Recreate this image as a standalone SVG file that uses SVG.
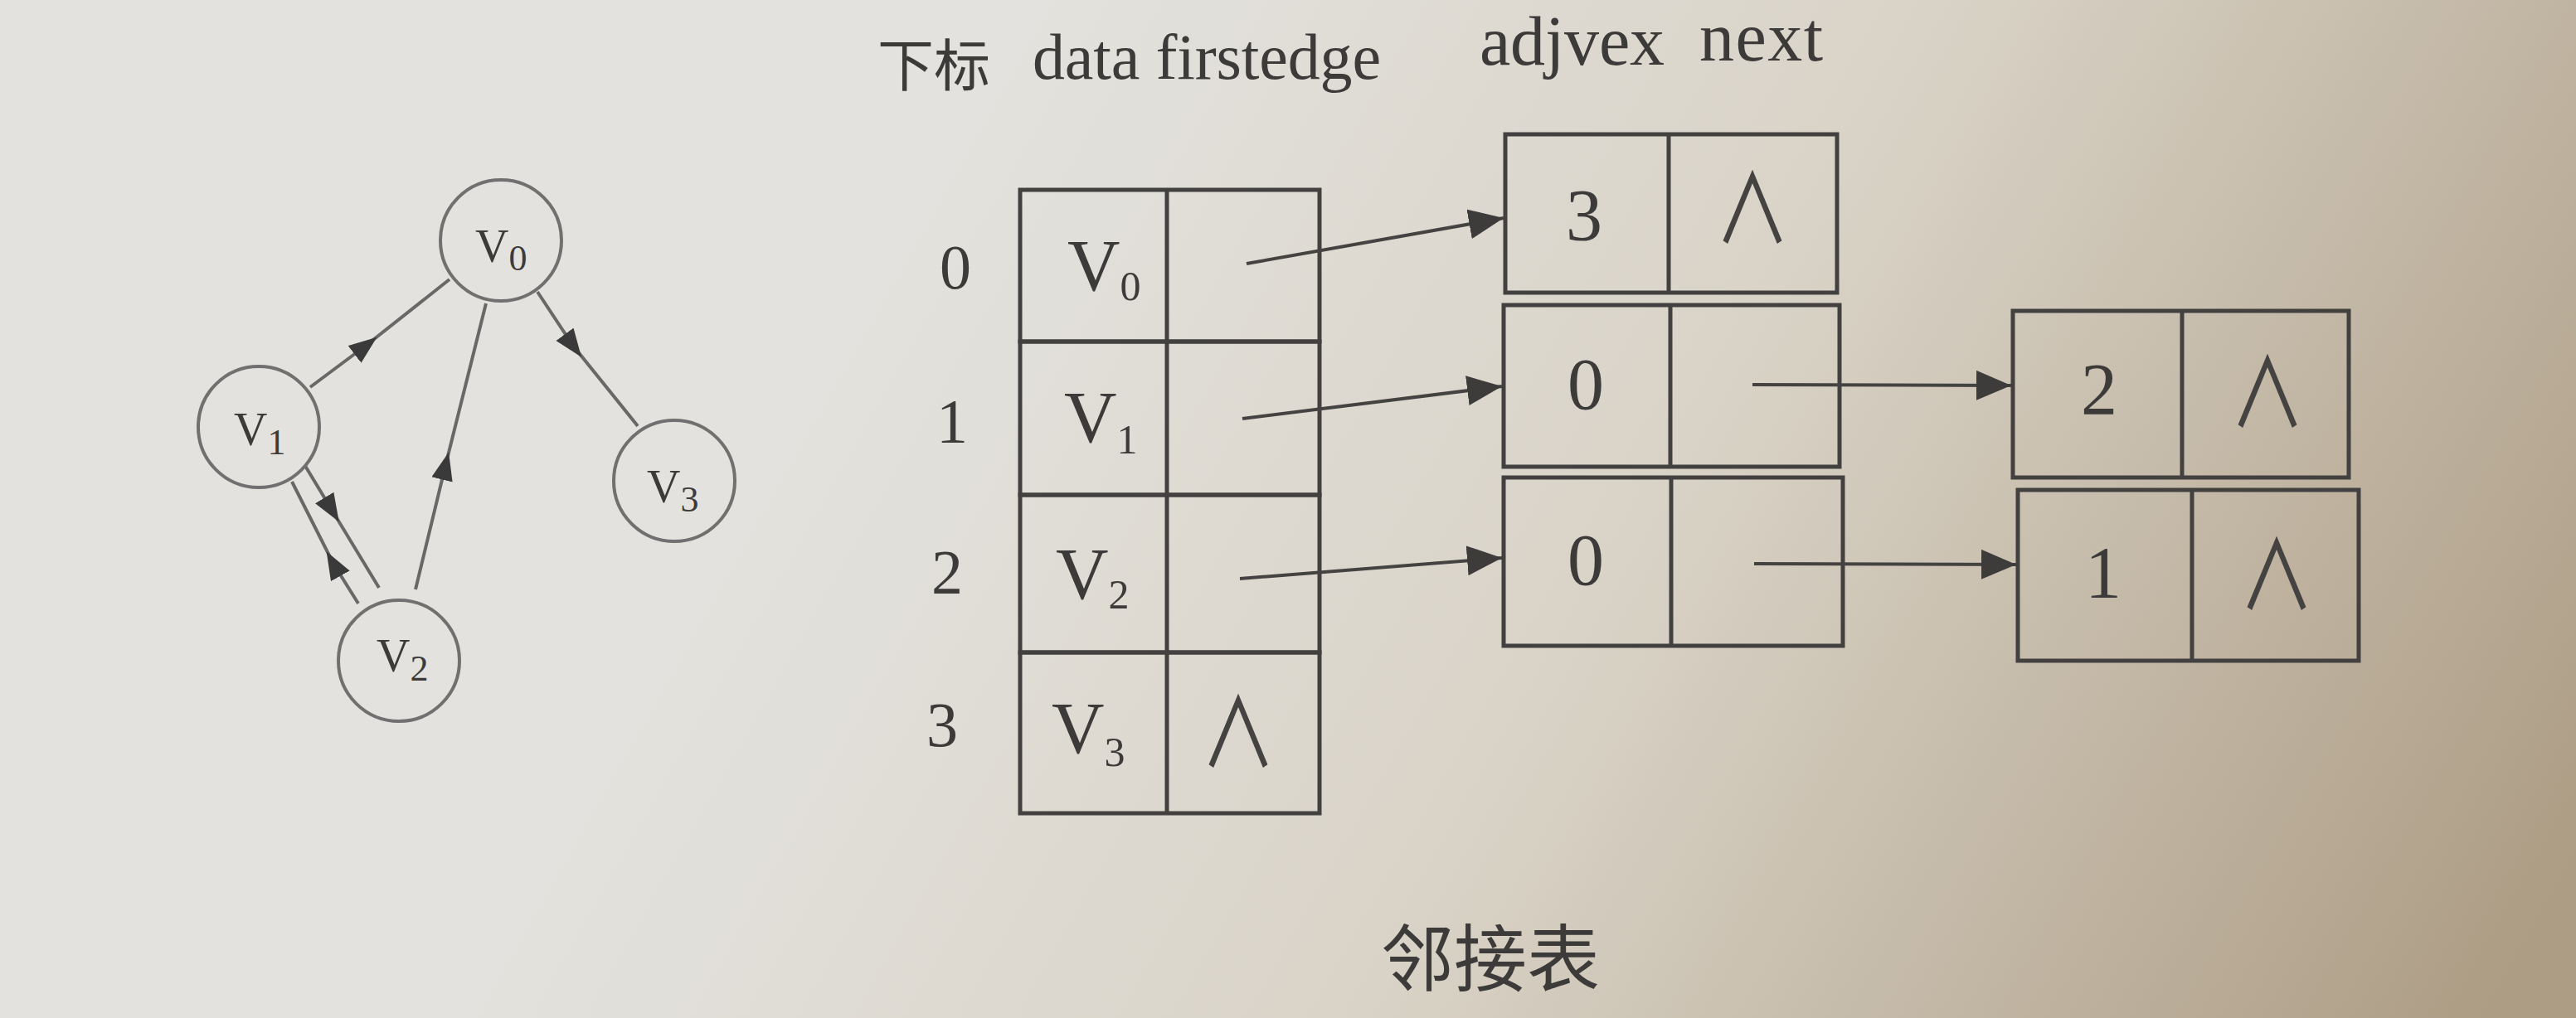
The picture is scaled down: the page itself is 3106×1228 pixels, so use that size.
<svg xmlns="http://www.w3.org/2000/svg" width="3106" height="1228" viewBox="0 0 3106 1228">
<defs>
<linearGradient id="paper" gradientUnits="userSpaceOnUse" x1="1100" y1="250" x2="2950" y2="1300">
<stop offset="0" stop-color="#e3e2de"/>
<stop offset="0.45" stop-color="#d9d3c7"/>
<stop offset="1" stop-color="#ad9d85"/>
</linearGradient>
<marker id="tarr" markerUnits="userSpaceOnUse" markerWidth="46" markerHeight="38" refX="42" refY="18" orient="auto" viewBox="0 0 46 38">
<path d="M0,0 L42,18 L0,36 z" fill="#3e3c3a"/>
</marker>
<marker id="garr" markerUnits="userSpaceOnUse" markerWidth="36" markerHeight="28" refX="17" refY="13" orient="auto" viewBox="0 0 36 28">
<path d="M0,0 L34,13 L0,26 z" fill="#3a3a3a"/>
</marker>
</defs>
<style>
.cell{fill:none;stroke:#434140;stroke-width:5}
.circ{fill:none;stroke:#707070;stroke-width:4}
.gedge{fill:none;stroke:#686868;stroke-width:4;marker-mid:url(#garr)}
.tedge{fill:none;stroke:#454341;stroke-width:4;marker-end:url(#tarr)}
.t{font-family:"Liberation Serif","Noto Sans CJK SC",serif;fill:#3c3b39}
.gv{font-size:56px}
.tv{font-size:88px}
.idx{font-size:76px;text-anchor:middle}
.num{font-size:88px;text-anchor:middle}
.nul{font-family:"Noto Sans CJK SC",sans-serif;font-size:104px;text-anchor:middle;fill:#454341}
.hd{font-size:78px}
.hd2{font-size:84px}
.cjk{font-family:"Noto Sans CJK SC",sans-serif;fill:#3c3b39}
</style>
<rect x="0" y="0" width="3106" height="1228" fill="url(#paper)"/>

<g id="header">
<text class="cjk" x="1058" y="104" font-size="68">下标</text>
<text class="t hd" x="1245" y="95" textLength="420" lengthAdjust="spacing">data firstedge</text>
<text class="t hd2" x="1784" y="78" textLength="223" lengthAdjust="spacing">adjvex</text>
<text class="t hd2" x="2049" y="73" textLength="149" lengthAdjust="spacing">next</text>
</g>

<g id="graph-edges">
<path class="gedge" d="M374,467 L441,417 L542,337"/>
<path class="gedge" d="M501,711 L537,562 L586,366"/>
<path class="gedge" d="M648,352 L691,417 L769,514"/>
<path class="gedge" d="M368,562 L400,615 L457,709"/>
<path class="gedge" d="M432,728 L402,680 L352,581"/>
</g>

<g id="gv0">
<circle class="circ" cx="604" cy="290" r="73"/>
<text class="t gv" x="573" y="316">V<tspan font-size="44" dy="10">0</tspan></text>
</g>
<g id="gv1">
<circle class="circ" cx="312" cy="515" r="73"/>
<text class="t gv" x="282" y="537">V<tspan font-size="44" dy="11">1</tspan></text>
</g>
<g id="gv2">
<circle class="circ" cx="481" cy="797" r="73"/>
<text class="t gv" x="454" y="810">V<tspan font-size="44" dy="11">2</tspan></text>
</g>
<g id="gv3">
<circle class="circ" cx="813" cy="580" r="73"/>
<text class="t gv" x="780" y="606">V<tspan font-size="44" dy="11">3</tspan></text>
</g>

<g id="vertex-0">
<text class="t idx" x="1152" y="348">0</text>
<rect class="cell" x="1230" y="229" width="361" height="183"/>
<line class="cell" x1="1407" y1="229" x2="1407" y2="412"/>
<text class="t tv" x="1287" y="350">V<tspan font-size="50" dy="12">0</tspan></text>
</g>
<g id="vertex-1">
<text class="t idx" x="1148" y="534">1</text>
<rect class="cell" x="1230" y="412" width="361" height="185"/>
<line class="cell" x1="1407" y1="412" x2="1407" y2="597"/>
<text class="t tv" x="1283" y="533">V<tspan font-size="50" dy="14">1</tspan></text>
</g>
<g id="vertex-2">
<text class="t idx" x="1142" y="716">2</text>
<rect class="cell" x="1230" y="597" width="361" height="190"/>
<line class="cell" x1="1407" y1="597" x2="1407" y2="787"/>
<text class="t tv" x="1273" y="722">V<tspan font-size="50" dy="12">2</tspan></text>
</g>
<g id="vertex-3">
<text class="t idx" x="1136" y="900">3</text>
<rect class="cell" x="1230" y="787" width="361" height="194"/>
<line class="cell" x1="1407" y1="787" x2="1407" y2="981"/>
<text class="t tv" x="1268" y="908">V<tspan font-size="50" dy="16">3</tspan></text>
<text class="nul" transform="translate(1493,925) scale(0.88,1.1)">∧</text>
</g>

<g id="edge-0-3">
<rect class="cell" x="1815" y="162" width="400" height="191"/>
<line class="cell" x1="2012" y1="162" x2="2012" y2="353"/>
<text class="t num" x="1910" y="289">3</text>
<text class="nul" transform="translate(2113,293) scale(0.88,1.1)">∧</text>
</g>
<g id="edge-1-0">
<rect class="cell" x="1813" y="368" width="405" height="195"/>
<line class="cell" x1="2014" y1="368" x2="2014" y2="563"/>
<text class="t num" x="1912" y="493">0</text>
</g>
<g id="edge-2-0">
<rect class="cell" x="1813" y="576" width="409" height="203"/>
<line class="cell" x1="2015" y1="576" x2="2015" y2="779"/>
<text class="t num" x="1912" y="705">0</text>
</g>
<g id="edge-1-2">
<rect class="cell" x="2427" y="375" width="405" height="201"/>
<line class="cell" x1="2631" y1="375" x2="2631" y2="576"/>
<text class="t num" x="2531" y="499">2</text>
<text class="nul" transform="translate(2734,515) scale(0.88,1.1)">∧</text>
</g>
<g id="edge-2-1">
<rect class="cell" x="2433" y="591" width="411" height="206"/>
<line class="cell" x1="2643" y1="591" x2="2643" y2="797"/>
<text class="t num" x="2536" y="720">1</text>
<text class="nul" transform="translate(2745,735) scale(0.88,1.1)">∧</text>
</g>

<g id="pointers">
<path class="tedge" d="M1503,318 L1813,263"/>
<path class="tedge" d="M1498,505 L1811,466"/>
<path class="tedge" d="M1495,698 L1811,673"/>
<path class="tedge" d="M2113,464 L2425,465"/>
<path class="tedge" d="M2115,680 L2431,681"/>
</g>

<text class="cjk" x="1797" y="1188" font-size="88" text-anchor="middle">邻接表</text>
</svg>
